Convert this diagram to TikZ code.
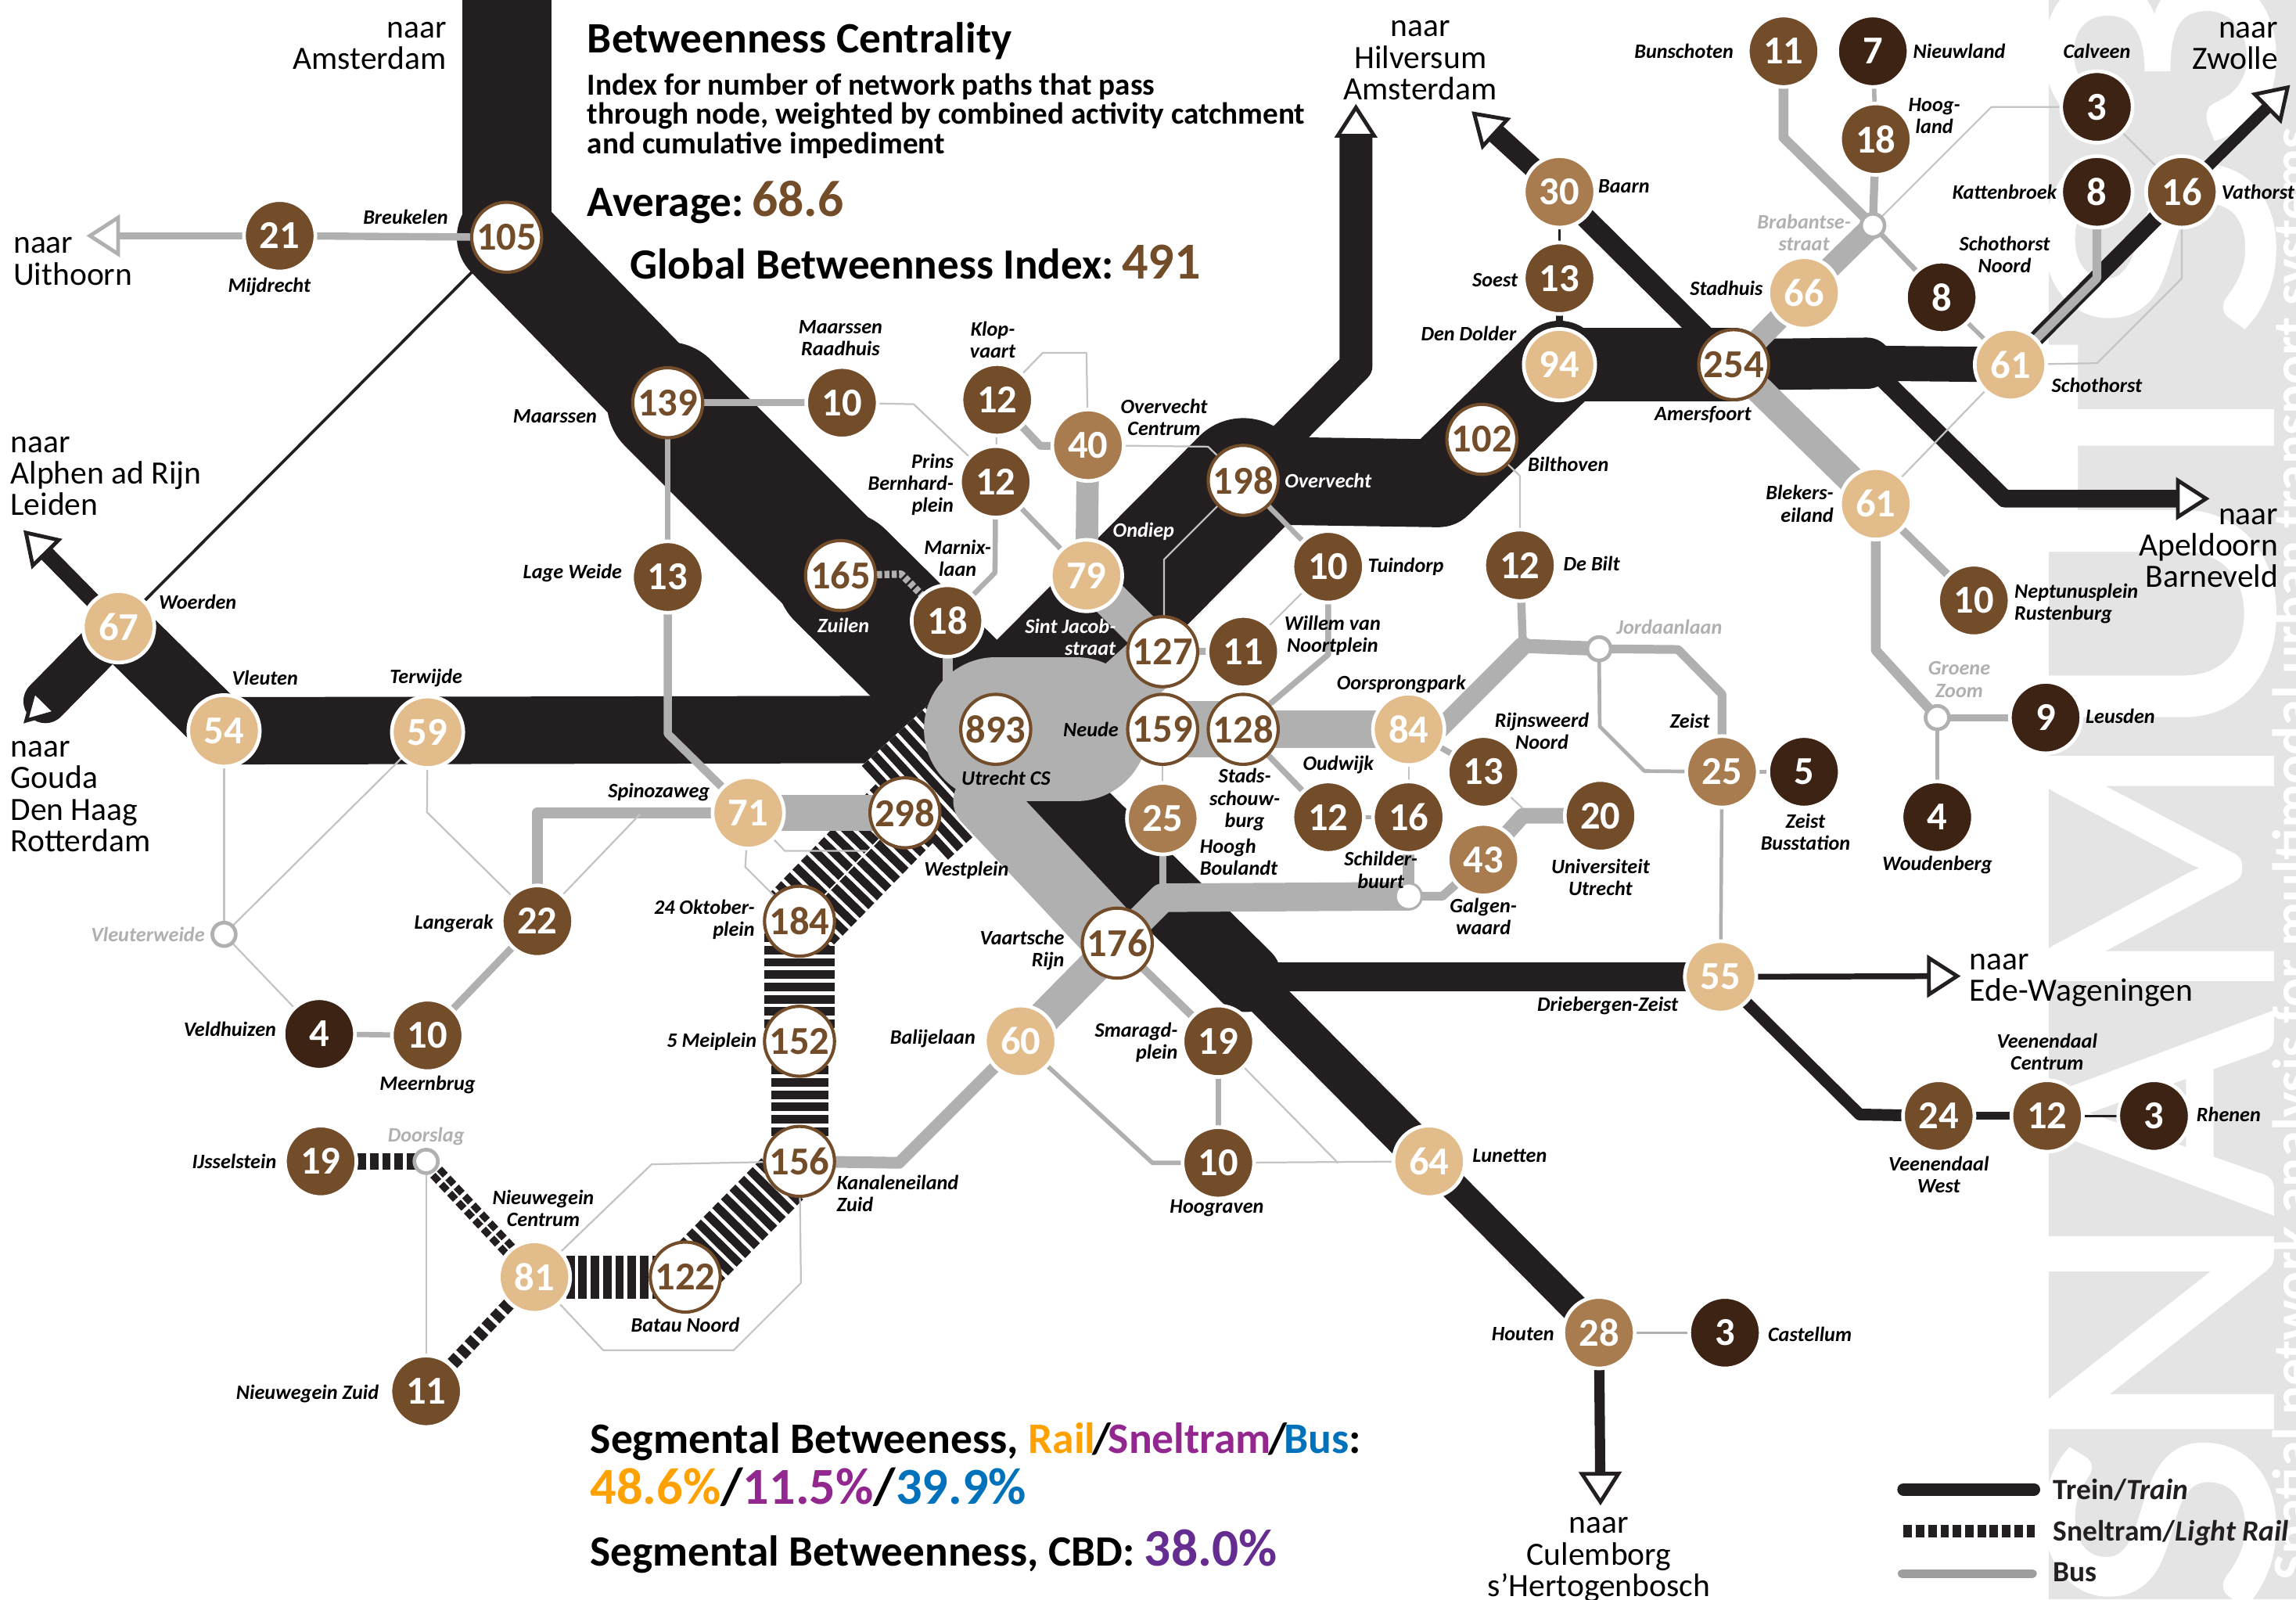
\documentclass[tikz,border=0pt]{standalone}
\usepackage{fontspec}
\setmainfont{Carlito}
\newfontfamily\bigf[FakeBold=1.6]{Carlito}
\usetikzlibrary{arrows.meta,backgrounds}
\definecolor{blk}{HTML}{231F20}
\definecolor{bgrey}{HTML}{B0B0B0}
\definecolor{tgrey}{HTML}{C4C4C4}
\definecolor{pgrey}{HTML}{E4E4E4}
\definecolor{cTan}{HTML}{E3BC8B}
\definecolor{cMid}{HTML}{A97C4F}
\definecolor{cBrn}{HTML}{734C2A}
\definecolor{cDrk}{HTML}{3D2314}
\definecolor{cRail}{HTML}{FFA100}
\definecolor{cTram}{HTML}{92278F}
\definecolor{cBus}{HTML}{0072BC}
\definecolor{cCbd}{HTML}{662D91}
\tikzstyle{nd}=[circle,inner sep=0pt,outer sep=0pt,minimum size=48.8pt,draw=white,line width=2.5pt,text=white,font=\bfseries\fontsize{27}{27}\selectfont]
\tikzstyle{nt}=[nd,fill=cTan]
\tikzstyle{nm}=[nd,fill=cMid]
\tikzstyle{nb}=[nd,fill=cBrn]
\tikzstyle{nk}=[nd,fill=cDrk]
\tikzstyle{nh}=[nd,fill=white,draw=cBrn,line width=2.2pt,minimum size=47.8pt,text=cBrn]
\tikzstyle{ns}=[circle,inner sep=0pt,outer sep=0pt,minimum size=16pt,fill=white,draw=bgrey,line width=2.5pt]
\tikzstyle{lb}=[inner sep=0pt,align=center,font=\bfseries\itshape\fontsize{14}{15}\selectfont]
\tikzstyle{lg}=[lb,text=bgrey]
\tikzstyle{lw}=[lb,text=white]
\tikzstyle{dest}=[inner sep=0pt,font=\fontsize{22.2}{21.5}\selectfont]
\tikzstyle{ttl}=[anchor=base west,inner sep=0pt]
\tikzstyle{train}=[draw=blk,line cap=round,line join=round]
\tikzstyle{bus}=[draw=bgrey,line cap=round,line join=round]
\tikzstyle{thin}=[draw=tgrey,line width=1.2pt,line join=round]
\tikzstyle{tram}=[draw=blk,line cap=butt,dash pattern=on 5.8pt off 2.6pt]
\tikzstyle{tohead}=[-{Triangle[length=23pt,width=29pt,fill=white,line width=2.6pt]}]
\tikzstyle{toheadb}=[-{Triangle[length=22pt,width=24pt,fill=white,line width=2.6pt]}]
\tikzstyle{bigl}=[inner sep=0pt,rotate=90,anchor=base,text=white,font=\bigf\fontsize{236}{236}\selectfont]
\newcommand{\slsh}{\kern-2pt/\kern-2pt}
\begin{document}
\begin{tikzpicture}[x=1pt,y=-1pt]
\useasboundingbox (0,0) rectangle (1568,1092);
% stations
\node[nh] (n105) at (346,162) {105}; \node[nh] (n139) at (456,275) {139}; \node[nh] (n165) at (574,393) {165}; \node[nh] (n198) at (849,328) {198};
\node[nh] (n102) at (1012,300) {102}; \node[nh] (n254) at (1184,249) {254}; \node[nh] (n127) at (794,445) {127}; \node[nh] (n159) at (794,498) {159};
\node[nh] (n128) at (849,498) {128}; \node[nh] (n893) at (680,498) {893}; \node[nh] (n298) at (618,555) {298}; \node[nh] (n184) at (546,629) {184};
\node[nh] (n152) at (546,711) {152}; \node[nh] (n156) at (546,793) {156}; \node[nh] (n122) at (468,872) {122}; \node[nh] (n176) at (763,644) {176};
\node[nt] (n67) at (81,428) {67}; \node[nt] (n54) at (153,499) {54}; \node[nt] (n59) at (292,500) {59}; \node[nt] (n79) at (742,393) {79};
\node[nt] (n71) at (511,555) {71}; \node[nt] (n84) at (962,498) {84}; \node[nt] (n94) at (1065,249) {94}; \node[nt] (n66) at (1232,200) {66};
\node[nt] (n61a) at (1373,249) {61}; \node[nt] (n61b) at (1281,344) {61}; \node[nt] (n55) at (1175,667) {55}; \node[nt] (n64) at (976,793) {64};
\node[nt] (n60) at (697,711) {60}; \node[nt] (n81) at (365,872) {81};
\node[nm] (n40) at (743,304) {40}; \node[nm] (n30) at (1065,131) {30}; \node[nm] (n25a) at (1176,527) {25}; \node[nm] (n25b) at (794,559) {25};
\node[nm] (n43) at (1013,587) {43}; \node[nm] (n28) at (1092,910) {28};
\node[nb] (n21) at (191,161) {21}; \node[nb] (n10a) at (575,275) {10}; \node[nb] (n12a) at (681,273) {12}; \node[nb] (n12b) at (680,329) {12};
\node[nb] (n18a) at (647,424) {18}; \node[nb] (n13a) at (456,394) {13}; \node[nb] (n10b) at (907,387) {10}; \node[nb] (n11a) at (849,445) {11};
\node[nb] (n12c) at (1038,386) {12}; \node[nb] (n13b) at (1013,527) {13}; \node[nb] (n12d) at (907,558) {12}; \node[nb] (n16a) at (962,558) {16};
\node[nb] (n20) at (1093,557) {20}; \node[nb] (n22) at (367,629) {22}; \node[nb] (n10c) at (292,707) {10}; \node[nb] (n19a) at (219,793) {19};
\node[nb] (n11b) at (291,950) {11}; \node[nb] (n19b) at (832,711) {19}; \node[nb] (n10d) at (832,794) {10}; \node[nb] (n13c) at (1065,190) {13};
\node[nb] (n11c) at (1218,35) {11}; \node[nb] (n18b) at (1281,95) {18}; \node[nb] (n10e) at (1348,410) {10}; \node[nb] (n16b) at (1490,131) {16};
\node[nb] (n24) at (1324,762) {24}; \node[nb] (n12e) at (1398,762) {12};
\node[nk] (n7) at (1279,35) {7}; \node[nk] (n3a) at (1432,73) {3}; \node[nk] (n8a) at (1432,131) {8}; \node[nk] (n8b) at (1326,203) {8};
\node[nk] (n9) at (1397,490) {9}; \node[nk] (n5) at (1232,527) {5}; \node[nk] (n4a) at (1323,558) {4}; \node[nk] (n4b) at (218,706) {4};
\node[nk] (n3b) at (1178,910) {3}; \node[nk] (n3c) at (1471,762) {3};
\node[ns] (sVleut) at (153,638) {}; \node[ns] (sDoors) at (291,793) {}; \node[ns] (sJord) at (1092,443) {}; \node[ns] (sBrab) at (1279,154) {}; \node[ns] (sGroen) at (1323,490) {};
\node[ns,draw=none] (sSchil) at (962,612) {};
% labels
\node[lb] (lBreu) at (277,148) {Breukelen}; \node[lb] (lMijd) at (184,196) {Mijdrecht}; \node[lb] (lMaar) at (379,284) {Maarssen}; \node[lb] (lLage) at (391,391.5) {Lage Weide};
\node[lb] (lRaad) at (574,231) {Maarssen\\Raadhuis}; \node[lb] (lKlop) at (678,232) {Klop-\\vaart}; \node[lb] (lOvCe) at (795,285) {Overvecht\\Centrum};
\node[lb,align=right] (lPrin) at (622,331) {Prins\\Bernhard-\\plein}; \node[lb] (lMarn) at (654,381) {Marnix-\\laan}; \node[lw] (lZuil) at (576,427) {Zuilen};
\node[lw] (lOndi) at (781,363) {Ondiep}; \node[lw,align=right] (lSint) at (731,435) {Sint Jacob-\\straat}; \node[lw] (lOver) at (907,328) {Overvecht};
\node[lb] (lTuin) at (960,387) {Tuindorp}; \node[lb] (lWill) at (910,434) {Willem van\\Noortplein}; \node[lb] (lBilt) at (1087,385) {De Bilt}; \node[lb] (lBilh) at (1071,317) {Bilthoven};
\node[lb] (lDold) at (1003,228) {Den Dolder}; \node[lb] (lSoes) at (1021,191) {Soest}; \node[lb] (lBaar) at (1109,127) {Baarn}; \node[lb] (lStad) at (1179,197) {Stadhuis};
\node[lb] (lAmer) at (1163,283) {Amersfoort}; \node[lb,align=right] (lBlek) at (1229,344) {Blekers-\\eiland}; \node[lb] (lBuns) at (1150,35) {Bunschoten}; \node[lb] (lNieu) at (1338,35) {Nieuwland};
\node[lb] (lHoog) at (1321,79) {Hoog-\\land}; \node[lb] (lCalv) at (1432,35) {Calveen}; \node[lb] (lKatt) at (1369,131) {Kattenbroek}; \node[lb] (lVath) at (1542,131) {Vathorst};
\node[lb] (lScNo) at (1369,174) {Schothorst\\Noord}; \node[lb] (lScho) at (1432,263) {Schothorst}; \node[lb,align=left] (lNept) at (1418,412) {Neptunusplein\\Rustenburg};
\node[lg] (lBrab) at (1232,159) {Brabantse-\\straat}; \node[lg] (lGroe) at (1338,464) {Groene\\Zoom}; \node[lb] (lLeus) at (1448,489) {Leusden}; \node[lg] (lJord) at (1140,428) {Jordaanlaan};
\node[lg] (lVlwe) at (101,638) {Vleuterweide}; \node[lg] (lDoor) at (291,776) {Doorslag}; \node[lb] (lWoud) at (1323,590.5) {Woudenberg}; \node[lb] (lZeis) at (1154,492) {Zeist};
\node[lb] (lZbus) at (1233,568) {Zeist\\Busstation}; \node[lb] (lRijn) at (1053,499) {Rijnsweerd\\Noord}; \node[lb] (lOors) at (957,467) {Oorsprongpark}; \node[lb] (lNeud) at (745,498) {Neude};
\node[lb] (lUtre) at (687,531) {Utrecht CS}; \node[lb] (lStsc) at (850,546) {Stads-\\schouw-\\burg}; \node[lb,align=left] (lHBou) at (846,585) {Hoogh\\Boulandt}; \node[lb] (lOudw) at (914,522) {Oudwijk};
\node[lb] (lSchi) at (943,594) {Schilder-\\buurt}; \node[lb] (lGalg) at (1013,626) {Galgen-\\waard}; \node[lb] (lUniv) at (1093,599) {Universiteit\\Utrecht}; \node[lb] (lSpin) at (450,541) {Spinozaweg};
\node[lb,align=right] (l24O) at (481,628) {24 Oktober-\\plein}; \node[lb] (l5Me) at (486,711.5) {5 Meiplein}; \node[lb] (lWest) at (660,594) {Westplein}; \node[lb,align=right] (lVaar) at (698,649) {Vaartsche\\Rijn};
\node[lb] (lBali) at (637,709) {Balijelaan}; \node[lb,align=right] (lSmar) at (776,712) {Smaragd-\\plein}; \node[lb] (lHoog2) at (831,825) {Hoograven}; \node[lb] (lLune) at (1031,789) {Lunetten};
\node[lb] (lDrie) at (1098,687) {Driebergen-Zeist}; \node[lb] (lLang) at (310,630.5) {Langerak}; \node[lb] (lVeld) at (157,703) {Veldhuizen}; \node[lb] (lMeer) at (292,740.5) {Meernbrug};
\node[lb] (lIJss) at (160,793) {IJsselstein}; \node[lb] (lNwCe) at (371,825) {Nieuwegein\\Centrum}; \node[lb] (lNwZu) at (210,952) {Nieuwegein Zuid}; \node[lb] (lBata) at (468,904.5) {Batau Noord};
\node[lb,align=left] (lKana) at (613,815) {Kanaleneiland\\Zuid}; \node[lb] (lHout) at (1040,911) {Houten}; \node[lb] (lCast) at (1236,911) {Castellum}; \node[lb] (lVeCe) at (1398,718) {Veenendaal\\Centrum};
\node[lb] (lVeWe) at (1324,802) {Veenendaal\\West}; \node[lb] (lRhen) at (1522,761) {Rhenen}; \node[lb] (lWoer) at (135,411) {Woerden}; \node[lb] (lVleu) at (181,463) {Vleuten}; \node[lb] (lTerw) at (291,463) {Terwijde};
% destinations
\node[dest,align=right,anchor=north east] (dAms) at (305,15) {naar\\Amsterdam};
\node[dest,align=left,anchor=north west] (dUit) at (9,162) {naar\\Uithoorn};
\node[dest,align=left,anchor=north west] (dAlp) at (7,298) {naar\\Alphen ad Rijn\\Leiden};
\node[dest,align=left,anchor=north west] (dGou) at (7,506) {naar\\Gouda\\Den Haag\\Rotterdam};
\node[dest,align=center,anchor=north] (dHil) at (970,14) {naar\\Hilversum\\Amsterdam};
\node[dest,align=right,anchor=north east] (dZwo) at (1556,15) {naar\\Zwolle};
\node[dest,align=right,anchor=north east] (dApe) at (1556,347) {naar\\Apeldoorn\\Barneveld};
\node[dest,align=left,anchor=north west] (dEde) at (1345,651) {naar\\Ede-Wageningen};
\node[dest,align=center,anchor=north] (dCul) at (1092,1036) {naar\\Culemborg\\s’Hertogenbosch};
% headings
\node[ttl,font=\bfseries\fontsize{29.6}{30}\selectfont] (tTitle) at (401,36) {Betweenness Centrality};
\node[anchor=north west,inner sep=0pt,align=left,font=\bfseries\fontsize{20.9}{20}\selectfont] (tIndex) at (401,50) {Index for number of network paths that pass\\through node, weighted by combined activity catchment\\and cumulative impediment};
\node[ttl,font=\bfseries\fontsize{29.5}{30}\selectfont] (tAvg) at (401,147.5) {Average:\kern-1pt\ \textcolor{cBrn}{\fontsize{35}{35}\selectfont 68.6}};
\node[ttl,font=\bfseries\fontsize{29.4}{30}\selectfont] (tGlob) at (430,190.5) {Global Betweenness Index:\kern-1pt\ \textcolor{cBrn}{\fontsize{35.4}{35}\selectfont 491}};
\node[ttl,font=\bfseries\fontsize{29.7}{30}\selectfont] (tSeg) at (403,992.5) {Segmental Betweeness, \textcolor{cRail}{Rail}\slsh\textcolor{cTram}{Sneltram}\slsh\textcolor{cBus}{Bus}:};
\node[ttl,font=\bfseries\fontsize{35.4}{35}\selectfont] (tPct) at (403,1027) {\textcolor{cRail}{48.6\%}/\textcolor{cTram}{11.5\%}/\textcolor{cBus}{39.9\%}};
\node[ttl,font=\bfseries\fontsize{29.5}{30}\selectfont] (tCbd) at (403,1069.5) {Segmental Betweenness, CBD: \textcolor{cCbd}{\fontsize{36}{36}\selectfont 38.0\%}};
% legend
\tikzstyle{lgd}=[anchor=base west,inner sep=0pt,text=blk,font=\bfseries\fontsize{20}{20}\selectfont]
\node[lgd] (kTrain) at (1402,1024) {Trein/\textit{Train}}; \node[lgd] (kTram) at (1402,1052) {Sneltram/\textit{Light Rail}}; \node[lgd] (kBus) at (1402,1080) {Bus};
\coordinate (kA) at (1300,1017); \coordinate (kB) at (1389,1017); \coordinate (kC) at (1300,1045.5); \coordinate (kD) at (1390,1045.5); \coordinate (kE) at (1299,1074.5); \coordinate (kF) at (1388,1074.5);
% bends
\coordinate (bCS) at (735,498); \coordinate (bHil) at (926,250); \coordinate (bTop) at (346,-40); \coordinate (bDol) at (982,330); \coordinate (bAmf) at (1275,248); \coordinate (bApe) at (1369,340.5);
\coordinate (bJun) at (851,667); \coordinate (bVee) at (1270,761); \coordinate (bZwo) at (1432,190);
\coordinate (tHil) at (926,71); \coordinate (tHil2) at (1005,76); \coordinate (tZwo) at (1564,58); \coordinate (tApe) at (1509,340.5); \coordinate (tEde) at (1339,666.5); \coordinate (tCul) at (1093,1028);
\coordinate (tGou) at (16,494); \coordinate (tAlp) at (16,362); \coordinate (tUit) at (59,161);
\coordinate (bBusS) at (672,547); \coordinate (b176) at (794,613); \coordinate (bCS2) at (647,470); \coordinate (b156) at (614,794); \coordinate (b71) at (367,555);
\coordinate (b13) at (456,501); \coordinate (bJa) at (1040,441); \coordinate (bJb) at (978,503); \coordinate (bJc) at (1146,443.5); \coordinate (bJd) at (1176,474); \coordinate (bJe) at (1092.5,496); \coordinate (bJf) at (1123,526.5);
\coordinate (b43) at (985,612); \coordinate (b20) at (1040,557); \coordinate (b11) at (1218,94); \coordinate (b61) at (1281,444); \coordinate (bPr) at (679.5,391); \coordinate (bKl) at (710.5,304.5);
\coordinate (bDa) at (615.5,392); \coordinate (bTu) at (907,447); \coordinate (bTub) at (868,480);
\coordinate (c3a) at (1360,73); \coordinate (c16a) at (1490,190); \coordinate (c16b) at (1432,248); \coordinate (cBil) at (1038,325);
\coordinate (c198) at (795,382); \coordinate (c198b) at (795,418); \coordinate (c40) at (825,305); \coordinate (cK1) at (712,241); \coordinate (cK2) at (742,241); \coordinate (cM) at (624,276);
\coordinate (c71) at (437,556); \coordinate (c59) at (291.6,554.6); \coordinate (c71a) at (536,581); \coordinate (c71b) at (592,581); \coordinate (c71c) at (509,592);
\coordinate (c60) at (787,794); \coordinate (c19) at (913.7,794); \coordinate (cBa) at (445,795); \coordinate (cBb) at (547,876); \coordinate (cBc) at (501,922); \coordinate (cBd) at (412,922); \coordinate (c13) at (1040,552);
\begin{scope}[on background layer]
\fill[pgrey] (1399,0) rectangle (1568,1092);
\begin{scope}
\clip (1399,0) rectangle (1568,1092);
\foreach \ch/\py/\sx in {S/1040/1.15,N/910/1.08,A/760/1,M/593/.92,U/419/1.15,T/292/1,S/167/1.15,3/40/1.1}
\node[bigl] (big\py) at (1551,\py) {\scalebox{\sx}[1]{\ch}};
\end{scope}
\node[inner sep=0pt,rotate=90,anchor=base,text=white,font=\bfseries\fontsize{37}{37}\selectfont] (tFoot) at (1578,583) {Spatial network analysis for multimodal urban transport systems};
% trains
\draw[train,line width=61pt] (bTop) -- (n105.center);
\draw[train,line width=68pt] (n105.center) -- (n139.center);
\draw[train,line width=83pt] (n139.center) -- (n165.center);
\draw[train,line width=88pt] (n165.center) -- (n893.center);
\draw[train,line width=46pt] (n54.center) -- (n893.center);
\draw[train,line width=42pt] (n67.center) -- (n54.center);
\draw[train,line width=30pt,toheadb] (n67.center) -- (tGou);
\draw[train,line width=10.7pt,tohead] (n67.center) -- (tAlp);
\draw[train,line width=2pt] (n67.center) -- (n105.center);
\draw[train,line width=85pt] (n893.center) -- (n198.center);
\draw[train,line width=22.5pt,tohead] (n198.center) -- (bHil) -- (tHil);
\draw[train,line width=60pt] (n198.center) -- (bDol) -- (n94.center);
\draw[train,line width=50pt] (n94.center) -- (n254.center);
\draw[train,line width=35pt] (n254.center) -- (bAmf);
\draw[train,line width=24pt] (bAmf) -- (n61a.center);
\draw[train,line width=12pt,tohead] (bAmf) -- (bApe) -- (tApe);
\draw[train,line width=14pt] (n254.center) -- (n30.center);
\draw[train,line width=14pt,tohead] (n30.center) -- (tHil2);
\draw[train,line width=1.8pt] (n30.center) -- (n13c.center);
\draw[train,line width=5pt] (n13c.center) -- (n94.center);
\draw[train,line width=11pt] (n61a.center) -- (n16b.center);
\draw[train,line width=8pt,tohead] (n16b.center) -- (tZwo);
\draw[train,line width=48pt] (n893.center) -- (bJun);
\draw[train,line width=28pt] (bJun) -- (n64.center);
\draw[train,line width=19.5pt] (n64.center) -- (n28.center);
\draw[train,line width=7pt,tohead] (n28.center) -- (tCul);
\draw[train,line width=19.5pt] (bJun) -- (n55.center);
\draw[train,line width=4pt,tohead] (n55.center) -- (tEde);
\draw[train,line width=8pt] (n55.center) -- (bVee) -- (n24.center);
\draw[train,line width=5.5pt] (n24.center) -- (n12e.center);
\draw[train,line width=1.7pt] (n12e.center) -- (n3c.center);
% sneltram
\draw[white,line width=87pt] (n298.center) -- (n893.center);
\draw[tram,line width=87pt] (n298.center) -- (n893.center);
\draw[tram,line width=56pt] (n298.center) -- (n184.center);
\draw[tram,line width=47.6pt] (n184.center) -- (n152.center);
\draw[tram,line width=39pt] (n152.center) -- (n156.center);
\draw[tram,line width=40pt] (n156.center) -- (n122.center);
\draw[tram,line width=29.5pt] (n122.center) -- (n81.center);
\draw[tram,line width=11pt] (n81.center) -- (sDoors.center);
\draw[tram,line width=9pt] (n81.center) -- (n11b.center);
\draw[tram,line width=11.2pt] (n19a.center) -- (sDoors.center);
\draw[white,line width=1.2pt] (n81.center) -- (sDoors.center);
\draw[white,line width=1pt] (n298.center) -- (n184.center);
% bus
\draw[bus,line width=98pt] (n893.center) -- (bCS);
\draw[bus,line width=40pt] (bCS) -- (n127.center);
\draw[bus,line width=25pt] (n79.center) -- (n127.center);
\draw[bus,line width=38.6pt,line cap=butt] (n159.center) -- (n128.center);
\draw[bus,line width=25.7pt] (n128.center) -- (n84.center);
\draw[bus,line width=42pt] (bBusS) -- (n176.center);
\draw[bus,line width=23pt] (n176.center) -- (n60.center);
\draw[bus,line width=8pt] (n60.center) -- (b156) -- (n156.center);
\draw[bus,line width=19.5pt] (n176.center) -- (b176) -- (sSchil.center);
\draw[bus,line width=5pt] (n25b.center) -- (b176);
\draw[bus,line width=5.5pt] (n176.center) -- (n19b.center);
\draw[bus,line width=15.3pt] (n40.center) -- (n79.center);
\draw[bus,line width=6.9pt] (n18a.center) -- (bCS2);
\draw[bus,line width=24.5pt] (n71.center) -- (n298.center);
\draw[bus,line width=7.4pt] (n71.center) -- (b71) -- (n22.center);
\draw[bus,line width=5pt] (n139.center) -- (n10a.center);
\draw[bus,line width=4.2pt] (n139.center) -- (n13a.center);
\draw[bus,line width=5.6pt] (n13a.center) -- (b13) -- (n71.center);
\draw[bus,line width=5pt] (n22.center) -- (n10c.center);
\draw[bus,line width=3.6pt] (n10c.center) -- (n4b.center);
\draw[bus,line width=5pt] (n105.center) -- (n21.center);
\draw[bus,line width=5pt,tohead] (n21.center) -- (tUit);
\draw[bus,line width=5.6pt] (n12c.center) -- (bJa);
\draw[bus,line width=12.7pt] (bJb) -- (bJa);
\draw[bus,line width=9.7pt] (bJa) -- (sJord.center);
\draw[bus,line width=6pt] (sJord.center) -- (bJc) -- (bJd) -- (n25a.center);
\draw[bus,line width=3pt] (n25a.center) -- (n5.center);
\draw[bus,line width=2.4pt] (n25a.center) -- (n55.center);
\draw[bus,line width=2.5pt] (sJord.center) -- (bJe) -- (bJf) -- (n25a.center);
\draw[bus,line width=8pt] (n16a.center) -- (sSchil.center);
\draw[bus,line width=6pt] (sSchil.center) -- (b43) -- (n43.center);
\draw[bus,line width=10.7pt] (n43.center) -- (b20) -- (n20.center);
\draw[bus,line width=4pt] (n84.center) -- (n13b.center);
\draw[bus,line width=4pt] (n128.center) -- (n12d.center);
\draw[bus,line width=2.5pt] (n12d.center) -- (n16a.center);
\draw[bus,line width=4pt] (n10b.center) -- (bTu) -- (bTub);
\draw[bus,line width=4.8pt] (n127.center) -- (n11a.center);
\draw[bus,line width=3.5pt] (n198.center) -- (n10b.center);
\draw[bus,line width=3.5pt] (n12b.center) -- (n79.center);
\draw[bus,line width=3.5pt] (n12b.center) -- (bPr) -- (n18a.center);
\draw[bus,line width=5.3pt] (n12a.center) -- (bKl) -- (n40.center);
\draw[bus,line width=15pt] (n66.center) -- (sBrab.center);
\draw[bus,line width=15pt] (n66.center) -- (n254.center);
\draw[bus,line width=19pt] (n254.center) -- (n61b.center);
\draw[bus,line width=5.5pt] (n61b.center) -- (n10e.center);
\draw[bus,line width=6.7pt] (n61b.center) -- (b61) -- (sGroen.center);
\draw[bus,line width=5pt] (sGroen.center) -- (n9.center);
\draw[bus,line width=2.2pt] (sGroen.center) -- (n4a.center);
\draw[bus,line width=5.5pt] (n18b.center) -- (sBrab.center);
\draw[bus,line width=3pt] (n7.center) -- (n18b.center);
\draw[bus,line width=6.7pt] (n11c.center) -- (b11) -- (sBrab.center);
\draw[bus,line width=3.5pt] (sBrab.center) -- (n8b.center);
\draw[bus,line width=3pt] (n8b.center) -- (n61a.center);
\draw[bus,line width=6pt] (n61a.center) -- (bZwo) -- (n8a.center);
\draw[bus,line width=3.4pt] (n19b.center) -- (n10d.center);
\draw[bus,line width=3pt] (n60.center) -- (c60) -- (n10d.center);
\draw[bus,line width=2pt] (n28.center) -- (n3b.center);
\draw[bus,line width=5pt,dash pattern=on 3.4pt off 1.6pt,line cap=butt] (n165.center) -- (bDa) -- (n18a.center);
% thin links
\draw[thin] (n3a.center) -- (c3a) -- (sBrab.center);
\draw[thin] (n3a.center) -- (n16b.center);
\draw[thin] (n16b.center) -- (c16a) -- (c16b) -- (n61a.center);
\draw[thin] (n61a.center) -- (n61b.center);
\draw[thin] (n198.center) -- (c198) -- (c198b) -- (n127.center);
\draw[thin] (n40.center) -- (c40) -- (n198.center);
\draw[thin] (n10b.center) -- (n11a.center);
\draw[thin] (n159.center) -- (n25b.center);
\draw[thin] (n84.center) -- (n16a.center);
\draw[thin] (n102.center) -- (cBil) -- (n12c.center);
\draw[thin] (n12a.center) -- (cK1) -- (cK2) -- (n40.center);
\draw[thin] (n12a.center) -- (n12b.center);
\draw[thin] (n10a.center) -- (cM) -- (n12b.center);
\draw[thin] (c71) -- (n22.center);
\draw[thin] (n59.center) -- (c59) -- (n22.center);
\draw[thin] (n59.center) -- (sVleut.center);
\draw[thin] (n54.center) -- (sVleut.center);
\draw[thin] (sVleut.center) -- (n4b.center);
\draw[thin] (n71.center) -- (c71a) -- (c71b);
\draw[thin] (n71.center) -- (c71c) -- (n184.center);
\draw[thin] (n19b.center) -- (c19);
\draw[thin] (n10d.center) -- (n64.center);
\draw[thin] (sDoors.center) -- (n11b.center);
\draw[thin] (n81.center) -- (cBa) -- (n156.center);
\draw[thin] (n156.center) -- (cBb) -- (cBc) -- (cBd) -- (n81.center);
\draw[thin] (n13b.center) -- (c13);
% legend lines
\draw[train,line width=8.6pt] (kA) -- (kB);
\draw[tram,line width=9pt] (kC) -- (kD);
\draw[bus,line width=6pt,draw=bgrey!90!black] (kE) -- (kF);
\end{scope}
\end{tikzpicture}
\end{document}
